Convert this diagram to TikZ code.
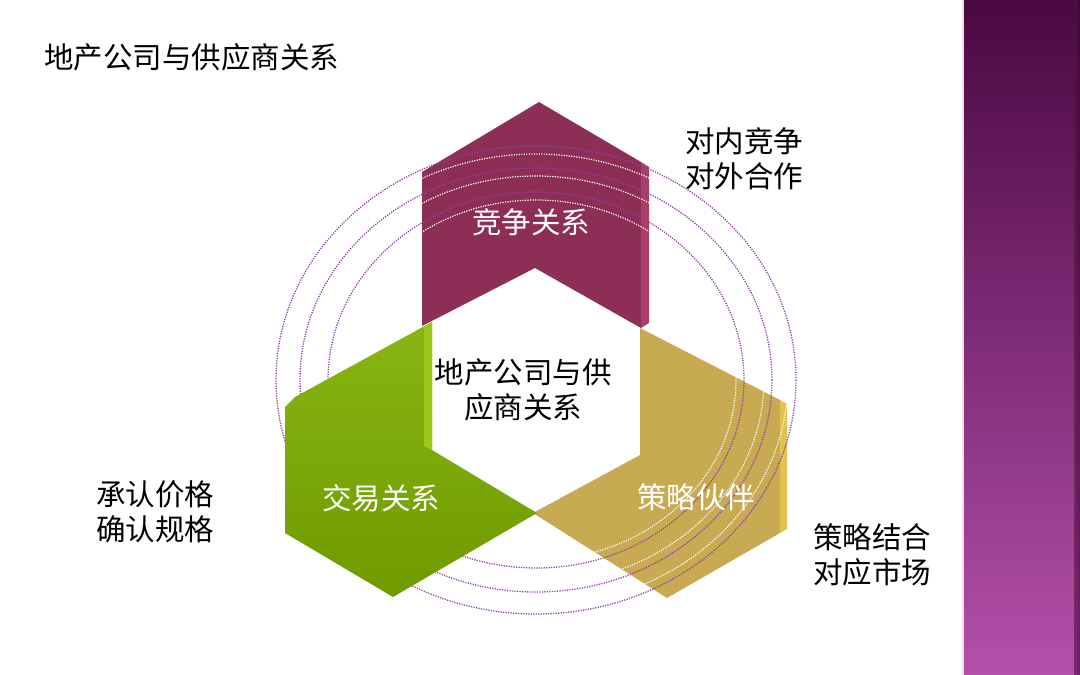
\documentclass[tikz,border=0pt]{standalone}
\usepackage{fontspec}
\newfontfamily\cjk{Noto Sans CJK SC}
\definecolor{maroonface}{HTML}{8D2E56}
\definecolor{maroonside}{HTML}{AA3E6B}
\definecolor{leaflight}{HTML}{88B612}
\definecolor{leafdark}{HTML}{6F9A01}
\definecolor{leafside}{HTML}{9CC81E}
\definecolor{goldface}{HTML}{C8AA52}
\definecolor{goldside}{HTML}{E3C24F}
\definecolor{ringc}{HTML}{8E3FA8}
\definecolor{barTop}{HTML}{4A0842}
\definecolor{barMid}{HTML}{86266F}
\definecolor{barBot}{HTML}{B450AB}
\tikzset{
  blacktext/.style={font=\cjk\fontsize{29.5}{35}\selectfont, align=center, text=black, inner sep=0pt},
  whitetext/.style={font=\cjk\fontsize{29.5}{35}\selectfont, align=center, text=white, inner sep=0pt},
  ringpurple/.style={draw=ringc, line width=1.3pt, dash pattern=on 1.2pt off 1.3pt},
  ringwhite/.style={draw=white, line width=1.2pt, dash pattern=on 1.2pt off 1.3pt},
}
\begin{document}
\begin{tikzpicture}[x=1pt,y=-1pt]
\useasboundingbox (0,0) rectangle (1080,675);
\fill[white] (0,0) rectangle (1080,675);

% right decorative bar
\shade[top color=barTop, middle color=barMid, bottom color=barBot] (962,0) rectangle (1080,675);
\fill[white!85!barMid] (962,0) rectangle (964,675);
\shade[left color=barMid!60!black, right color=barTop!70!black, opacity=0.6] (1074,0) rectangle (1080,675);

% maroon chevron (top)
\fill[maroonface] (422,172) -- (539,102) -- (641,162) -- (641,328) -- (535,268) -- (422,326) -- cycle;
\fill[maroonside] (641,162) -- (649,167) -- (649,323) -- (641,328) -- cycle;

% gold chevron (lower right)
\fill[goldface] (640,328) -- (780,400) -- (780,533) -- (667,598) -- (533,513) -- (640,455) -- cycle;
\fill[goldside] (780,400) -- (787,404) -- (787,529) -- (780,533) -- cycle;

% dotted rings
\foreach \rx/\ry in {260/234, 236/212, 208/188}{
  \draw[ringpurple] (536,380) ellipse [x radius=\rx, y radius=\ry];
  \draw[ringwhite] (536,380) ellipse [x radius=\rx-8, y radius=\ry-8];
}

% green chevron (lower left)
\shade[top color=leaflight, bottom color=leafdark] (432,322) -- (295,397) -- (285,407) -- (285,533) -- (393,597) -- (537,513) -- (432,450) -- cycle;
\fill[leafside] (424,326) -- (432,322) -- (432,450) -- (424,446) -- cycle;

% labels
\node[blacktext, anchor=west] (title) at (44,57) {地产公司与供应商关系};
\node[blacktext] (center) at (523,390) {地产公司与供\\应商关系};
\node[whitetext] (compete) at (531,222) {竞争关系};
\node[whitetext] (trade) at (381,498) {交易关系};
\node[whitetext] (partner) at (696,497) {策略伙伴};
\node[blacktext] (noteA) at (744,159) {对内竞争\\对外合作};
\node[blacktext] (noteB) at (155,512) {承认价格\\确认规格};
\node[blacktext] (noteC) at (872,555) {策略结合\\对应市场};
\end{tikzpicture}
\end{document}
